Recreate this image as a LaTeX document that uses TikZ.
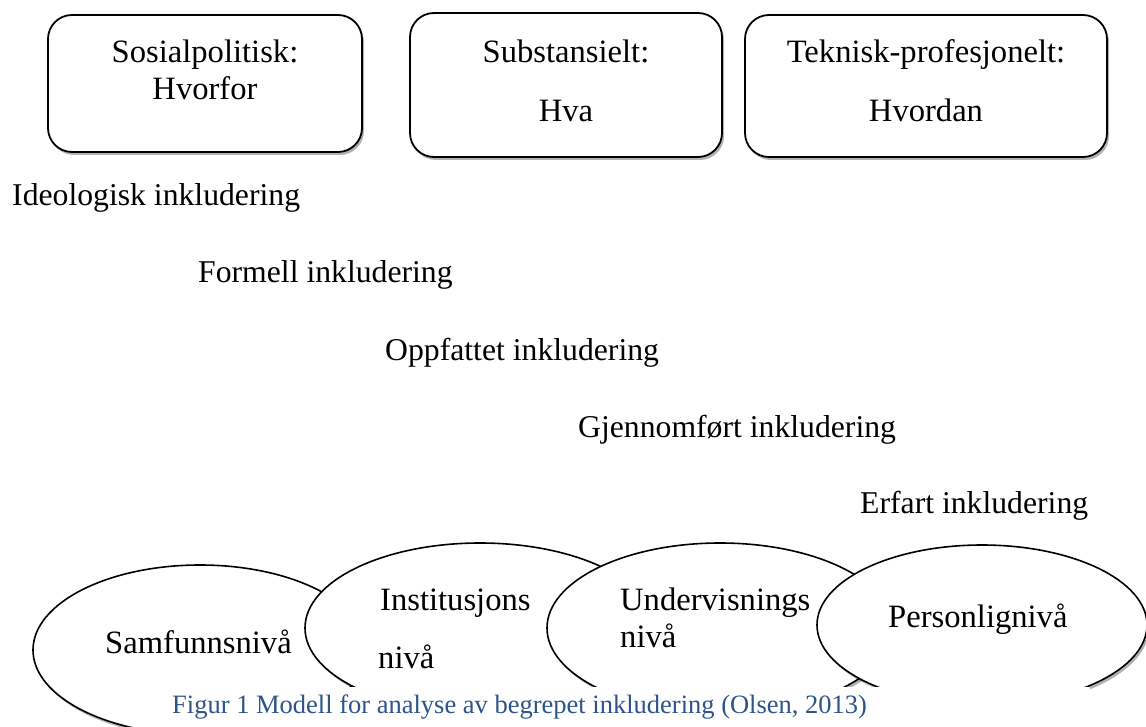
\documentclass[tikz,border=0pt]{standalone}
\usepackage{fontspec}
\newfontfamily\tnr{Liberation Serif}
\usetikzlibrary{shapes.geometric,shadows}
\definecolor{capblue}{RGB}{46,84,140}
\tikzset{
  softshadow/.style={drop shadow={shadow xshift=2pt, shadow yshift=-3pt, opacity=.3, fill=black}},
  frame/.style={draw, line width=1.8pt, rounded corners=24pt, fill=white, inner sep=0pt, softshadow},
  lvl/.style={ellipse, draw, line width=1.6pt, fill=white, inner sep=0pt, softshadow},
  camb/.style={font=\tnr\fontsize{32.6}{38}\selectfont, anchor=base, inner sep=0pt},
  cambl/.style={camb, anchor=base west},
  incl/.style={font=\tnr\fontsize{31.7}{38}\selectfont, anchor=base west, inner sep=0pt},
  capt/.style={font=\tnr\fontsize{26.5}{32}\selectfont, text=capblue, anchor=base west, inner sep=0pt},
}
\begin{document}
\begin{tikzpicture}[x=1pt, y=-1pt]
  \useasboundingbox[fill=white] (0,0) rectangle (1146,727);

  % three perspectives
  \node[frame, minimum width=314pt, minimum height=137pt] (why)  at (205,83.5) {};
  \node[frame, minimum width=312pt, minimum height=144pt] (what) at (566,85)   {};
  \node[frame, minimum width=362pt, minimum height=142pt] (how)  at (926,86)   {};
  \node[camb] (whyA)  at (205,63)  {Sosialpolitisk:};
  \node[camb] (whyB)  at (205,100) {Hvorfor};
  \node[camb] (whatA) at (566,63)  {Substansielt:};
  \node[camb] (whatB) at (566,122) {Hva};
  \node[camb] (howA)  at (926,63)  {Teknisk-profesjonelt:};
  \node[camb] (howB)  at (926,122) {Hvordan};

  % levels of inclusion, stepping down to the right
  \node[incl] (ideo)  at (12,206)  {Ideologisk inkludering};
  \node[incl] (form)  at (198,283) {Formell inkludering};
  \node[incl] (oppf)  at (385,360) {Oppfattet inkludering};
  \node[incl] (gjen)  at (578,437) {Gjennomført inkludering};
  \node[incl] (erf)   at (860,513) {Erfart inkludering};

  % overlapping levels of analysis
  \node[lvl, minimum width=334pt, minimum height=170pt] (samf) at (200,650) {};
  \node[lvl, minimum width=350pt, minimum height=170pt] (inst) at (480,628) {};
  \node[lvl, minimum width=346pt, minimum height=170pt] (underv) at (720,628) {};
  \node[lvl, minimum width=330pt, minimum height=160pt] (pers) at (982,625) {};

  \node[cambl] (samfT)  at (105,653) {Samfunnsnivå};
  \node[cambl] (instT)  at (380,610) {Institusjons};
  \node[cambl] (instN)  at (378,668) {nivå};
  \node[cambl] (undT)   at (620,610) {Undervisnings};
  \node[cambl] (undN)   at (620,647) {nivå};
  \node[cambl] (persT)  at (888,627) {Personlignivå};

  % caption strip
  \fill[white] (145,687) rectangle (1090,727);
  \node[capt] (caption) at (172,713) {Figur 1 Modell for analyse av begrepet inkludering (Olsen, 2013)};
\end{tikzpicture}
\end{document}
